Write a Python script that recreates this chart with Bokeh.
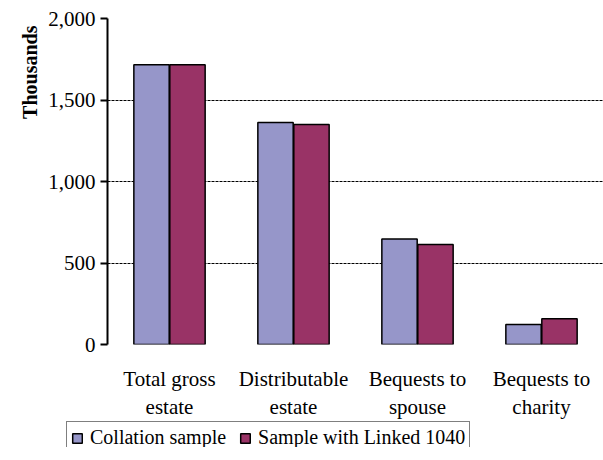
from bokeh.plotting import figure
from bokeh.layouts import column
from bokeh.models import (ColumnDataSource, NumeralTickFormatter, Legend, LegendItem, Title,
                          FixedTicker, Range1d, LinearAxis)
from bokeh.transform import dodge
from bokeh.embed import file_html
from bokeh.resources import INLINE

categories = ["Total gross estate", "Distributable estate", "Bequests to spouse", "Bequests to charity"]
label_line1 = ["Total gross", "Distributable", "Bequests to", "Bequests to"]
label_line2 = ["estate", "estate", "spouse", "charity"]
collation = [1716, 1362, 648, 123]
linked = [1716, 1350, 613, 158]
series_names = ["Collation sample", "Sample with Linked 1040"]
colors = ["#9696C9", "#993366"]
y_ticks = [0, 500, 1000, 1500, 2000]

FONT = "Liberation Serif"
FS = "21px"

xpos = [i + 0.5 for i in range(len(categories))]
src = ColumnDataSource(dict(x=xpos, collation=collation, linked=linked))

p = figure(x_range=Range1d(0, len(categories)), y_range=Range1d(0, 2000), width=603, height=426,
           output_backend="svg", toolbar_location=None, x_axis_location=None,
           min_border_left=107, min_border_top=18, min_border_right=0, min_border_bottom=0)
p.frame_width = 496
p.frame_height = 326
p.outline_line_color = None

p.vbar(x=dodge("x", -0.145), top="collation", width=0.285, source=src,
       fill_color=colors[0], line_color="black", line_width=1.5)
p.vbar(x=dodge("x", 0.145), top="linked", width=0.285, source=src,
       fill_color=colors[1], line_color="black", line_width=1.5)

p.xgrid.grid_line_color = None
p.ygrid.grid_line_color = "black"
p.ygrid.grid_line_dash = "3 1"
p.ygrid.grid_line_width = 1
p.yaxis.ticker = FixedTicker(ticks=y_ticks)
p.yaxis.formatter = NumeralTickFormatter(format="0,0")
p.yaxis.axis_line_color = "black"
p.yaxis.axis_line_width = 2
p.yaxis.major_tick_out = 7
p.yaxis.major_tick_in = 0
p.yaxis.major_tick_line_width = 2
p.yaxis.minor_tick_line_color = None
p.yaxis.major_label_text_font = FONT
p.yaxis.major_label_text_font_size = FS
p.yaxis.major_label_text_color = "black"
p.yaxis.major_label_standoff = 5

def make_x(labels, standoff):
    ax = LinearAxis(ticker=FixedTicker(ticks=xpos, minor_ticks=[]))
    ax.axis_line_color = None
    ax.major_tick_line_color = None
    ax.minor_tick_line_color = None
    ax.major_tick_out = 0
    ax.major_tick_in = 0
    ax.major_label_overrides = {x: lab for x, lab in zip(xpos, labels)}
    ax.major_label_text_font = FONT
    ax.major_label_text_font_size = FS
    ax.major_label_text_color = "black"
    ax.major_label_standoff = standoff
    p.add_layout(ax, "below")
    return ax

make_x(label_line1, 22)
make_x(label_line2, 1)

ttl = Title(text="Thousands", align="right", text_font=FONT, text_font_size="20px",
            text_font_style="bold", text_color="black", offset=7)
p.add_layout(ttl, "left")

# legend strip below the chart
pl = figure(x_range=Range1d(0, 1), y_range=Range1d(0, 1), width=603, height=26,
            output_backend="svg", toolbar_location=None, x_axis_location=None, y_axis_location=None,
            min_border_left=66, min_border_right=0, min_border_top=0, min_border_bottom=0)
pl.outline_line_color = None
pl.xgrid.visible = False
pl.ygrid.visible = False

try:
    p.frame_align = False
    pl.frame_align = False
except Exception:
    pass

lsrc = ColumnDataSource(dict(x=xpos, collation=collation, linked=linked))
lr1 = pl.vbar(x="x", top="collation", width=0.1, source=lsrc, fill_color=colors[0],
              line_color="black", line_width=1.5, visible=False)
lr2 = pl.vbar(x="x", top="linked", width=0.1, source=lsrc, fill_color=colors[1],
              line_color="black", line_width=1.5, visible=False)

legend = Legend(items=[LegendItem(label=series_names[0], renderers=[lr1]),
                       LegendItem(label=series_names[1], renderers=[lr2])],
                location="top_left", orientation="horizontal",
                label_text_font=FONT, label_text_font_size="20px", label_text_color="black",
                glyph_width=12, glyph_height=12, label_standoff=7, spacing=13,
                padding=4, margin=0, border_line_color="black", border_line_width=1.5,
                background_fill_alpha=1, inactive_fill_alpha=0)
pl.add_layout(legend, "center")

layout = column(p, pl, spacing=0)
open("out.html", "w").write(file_html(layout, INLINE))
